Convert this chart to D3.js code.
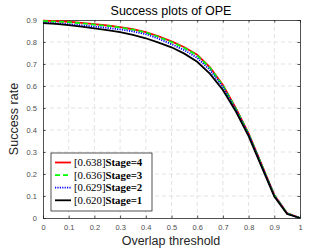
<!DOCTYPE html>
<html lang="en">
<head>
  <meta charset="UTF-8">
  <title>Success plots of OPE</title>
  <script src="https://d3js.org/d3.v7.min.js"></script>
  <style>
    body { margin: 0; background: #fff; }
    svg { display: block; font-family: "Liberation Sans", Arial, sans-serif; }
    .grid line { stroke: #e3e3e3; stroke-width: 1; stroke-dasharray: 4 3; }
    .tick text { fill: #4d4d4d; font-size: 7.5px; }
  </style>
</head>
<body>
<script>
var width = 332,
    height = 249;

// overlap thresholds 0:0.05:1
var thresholds = d3.range(0, 21).map(function(i) { return i / 20; });

var stage4 = [0.897, 0.895, 0.892, 0.887, 0.881, 0.875, 0.868, 0.858, 0.845, 0.826, 0.803,
              0.776, 0.742, 0.685, 0.605, 0.500, 0.385, 0.245, 0.105, 0.022, 0.000];
var stage3 = [0.895, 0.893, 0.890, 0.885, 0.879, 0.873, 0.866, 0.856, 0.843, 0.823, 0.800,
              0.773, 0.739, 0.682, 0.602, 0.498, 0.383, 0.243, 0.104, 0.021, 0.000];
var stage2 = [0.888, 0.885, 0.881, 0.876, 0.870, 0.864, 0.857, 0.848, 0.836, 0.815, 0.790,
              0.763, 0.728, 0.672, 0.595, 0.493, 0.380, 0.241, 0.102, 0.020, 0.000];
var stage1 = [0.886, 0.882, 0.877, 0.870, 0.862, 0.854, 0.845, 0.832, 0.817, 0.797, 0.776,
              0.747, 0.710, 0.655, 0.582, 0.485, 0.372, 0.235, 0.098, 0.018, 0.000];

var legendScores = ["[0.638]", "[0.636]", "[0.629]", "[0.620]"];
var legendNames = ["Stage=4", "Stage=3", "Stage=2", "Stage=1"];

var xTicks = [0, 0.1, 0.2, 0.3, 0.4, 0.5, 0.6, 0.7, 0.8, 0.9, 1];
var yTicks = [0, 0.1, 0.2, 0.3, 0.4, 0.5, 0.6, 0.7, 0.8, 0.9];

var series = [
  { values: stage4, color: "#ff0000", dash: null },
  { values: stage3, color: "#00ff00", dash: "5 3" },
  { values: stage2, color: "#0000ff", dash: "1.2 1.2" },
  { values: stage1, color: "#000000", dash: null }
];

var mLeft = 43, mRight = 300, mTop = 20, mBottom = 218;

var x = d3.scaleLinear().domain([0, 1]).range([mLeft, mRight]);
var y = d3.scaleLinear().domain([0, 0.9]).range([mBottom, mTop]);

var svg = d3.select("body").append("svg")
    .attr("width", width)
    .attr("height", height);

// grid
svg.append("g").attr("class", "grid")
  .selectAll("line").data(xTicks.slice(1, -1)).enter().append("line")
    .attr("x1", function(d) { return x(d); }).attr("x2", function(d) { return x(d); })
    .attr("y1", mTop).attr("y2", mBottom);
svg.append("g").attr("class", "grid")
  .selectAll("line").data(yTicks.slice(1, -1)).enter().append("line")
    .attr("y1", function(d) { return y(d); }).attr("y2", function(d) { return y(d); })
    .attr("x1", mLeft).attr("x2", mRight);

// axes, ticks inside like matlab
var fmt = function(d) { return String(+d.toFixed(1)); };
svg.append("g").attr("transform", "translate(0," + mBottom + ")")
    .call(d3.axisBottom(x).tickValues(xTicks).tickSize(-2.5).tickPadding(7).tickFormat(fmt));
svg.append("g").attr("transform", "translate(" + mLeft + ",0)")
    .call(d3.axisLeft(y).tickValues(yTicks).tickSize(-2.5).tickPadding(6).tickFormat(fmt));
svg.append("g").attr("transform", "translate(0," + mTop + ")")
    .call(d3.axisTop(x).tickValues(xTicks).tickSize(-2.5).tickFormat(""));
svg.append("g").attr("transform", "translate(" + mRight + ",0)")
    .call(d3.axisRight(y).tickValues(yTicks).tickSize(-2.5).tickFormat(""));
svg.selectAll(".domain").attr("stroke", "#262626").attr("stroke-width", 0.8);
svg.selectAll(".tick line").attr("stroke", "#262626").attr("stroke-width", 0.8);
svg.selectAll(".tick text").attr("font-family", "Liberation Sans, Arial, sans-serif");

// curves
var line = d3.line()
    .x(function(d, i) { return x(thresholds[i]); })
    .y(function(d) { return y(d); });

series.forEach(function(s) {
  svg.append("path")
    .datum(s.values)
    .attr("fill", "none")
    .attr("stroke", s.color)
    .attr("stroke-width", 1.8)
    .attr("stroke-dasharray", s.dash)
    .attr("d", line);
});

// titles
svg.append("text").attr("x", 171).attr("y", 15)
  .attr("text-anchor", "middle").attr("font-size", 12.5).attr("fill", "#000")
  .text("Success plots of OPE");
svg.append("text").attr("x", 171).attr("y", 245)
  .attr("text-anchor", "middle").attr("font-size", 12.5).attr("fill", "#262626")
  .text("Overlap threshold");
svg.append("text").attr("transform", "translate(18,119) rotate(-90)")
  .attr("text-anchor", "middle").attr("font-size", 12.5).attr("fill", "#262626")
  .text("Success rate");

// legend
var legend = svg.append("g");
legend.append("rect")
  .attr("x", 51).attr("y", 153).attr("width", 101).attr("height", 58)
  .attr("fill", "#fff").attr("stroke", "#262626").attr("stroke-width", 0.8);

series.forEach(function(s, i) {
  var ly = 162.5 + i * 12.6;
  legend.append("line")
    .attr("x1", 55).attr("x2", 71).attr("y1", ly).attr("y2", ly)
    .attr("stroke", s.color).attr("stroke-width", 1.8)
    .attr("stroke-dasharray", s.dash);
  var t = legend.append("text")
    .attr("x", 74).attr("y", ly + 3.5)
    .attr("font-family", "Liberation Serif, 'DejaVu Serif', serif")
    .attr("font-size", 10.8).attr("fill", "#000");
  t.append("tspan").text(legendScores[i]);
  t.append("tspan").attr("font-weight", "bold").text(legendNames[i]);
});
</script>
</body>
</html>
